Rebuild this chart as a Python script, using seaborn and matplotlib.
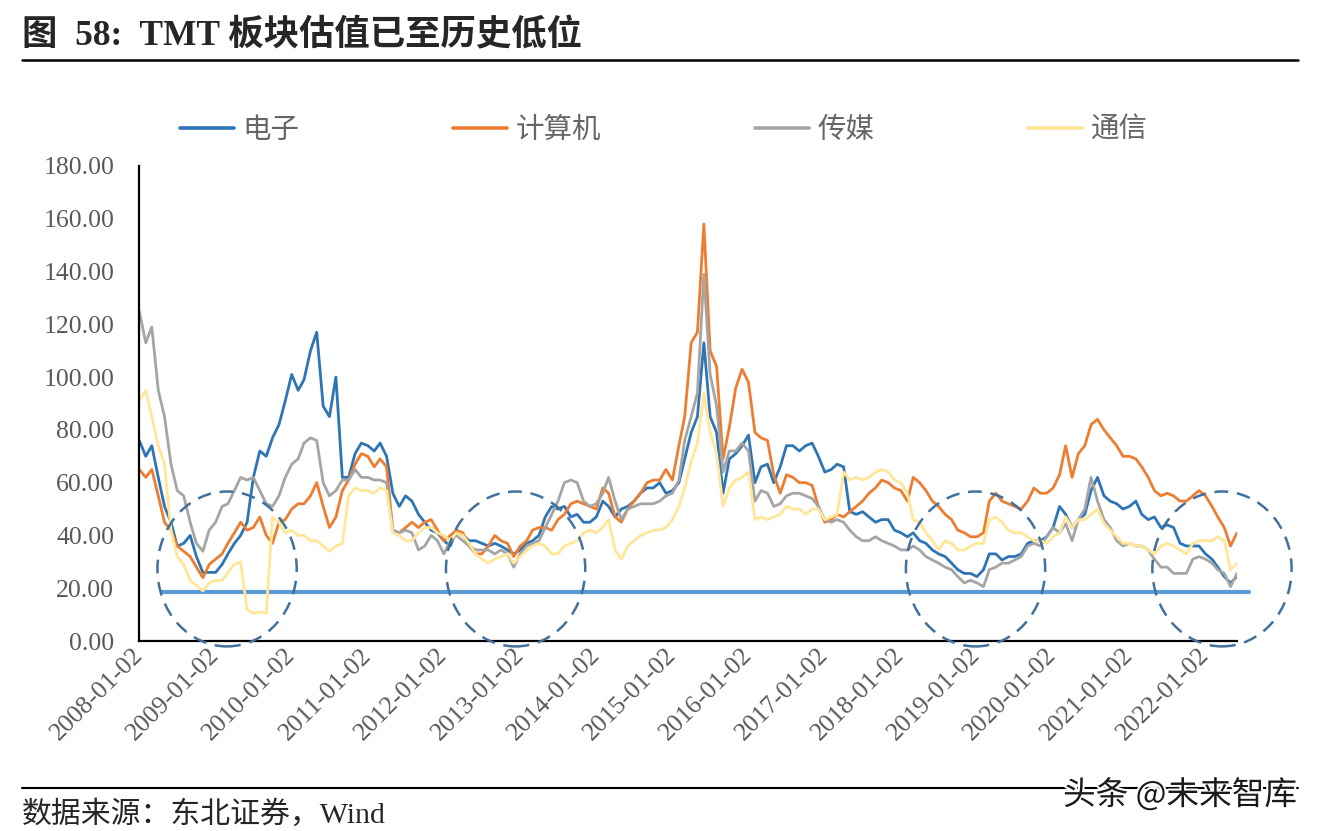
import numpy as np
import pandas as pd
import matplotlib
matplotlib.use("Agg")
import matplotlib.pyplot as plt
import matplotlib.dates as mdates
from matplotlib.patches import Ellipse
from matplotlib.lines import Line2D
import matplotlib.patheffects as pe
import seaborn as sns

# ---------------- data (monthly readings, 2008-01 .. 2022-06) ----------------
start_month = "2008-01-01"
n_months = 174

electronics = [  # 电子
    76, 70, 74, 62, 51, 45, 36, 37, 40, 32, 26, 26,
    26, 29, 33, 37, 40, 45, 62, 72, 70, 77, 82, 91,
    101, 95, 99, 110, 117, 89, 85, 100, 62, 62, 71, 75,
    74, 72, 75, 70, 56, 51, 55, 53, 48, 45, 42, 41,
    38, 36, 42, 40, 38, 38, 37, 36, 37, 36, 34.5, 33,
    34.5, 37, 38, 40, 47, 51, 50, 51, 47, 48, 45, 45,
    47, 53, 51, 47, 50, 51, 53, 56, 58, 58, 60, 56,
    57, 60, 69, 79, 85, 113, 85, 79, 56, 69, 71, 74,
    78, 60, 66, 67, 60, 66, 74, 74, 72, 74, 75, 70,
    64, 65, 67, 66, 49, 48, 49, 47, 45, 46, 46, 42,
    41, 39.5, 41, 38, 37, 34.5, 33, 32, 29.5, 27, 25.6, 25.6,
    24.4, 27, 33, 33, 30.7, 32, 32, 33, 37, 38, 38, 39.5,
    43, 51, 48, 43, 46, 48, 57, 62, 55, 53, 52, 50,
    51, 53, 48, 46, 47, 43, 44, 43, 37, 36, 36, 36,
    33, 31, 28, 24.4, 22, 24.4,
]
computer = [  # 计算机
    65, 62, 65, 55, 45, 42, 36, 34, 32, 28, 24, 29,
    31, 33, 37, 41, 45, 42, 43, 47, 40, 37, 45, 46,
    50, 52, 52, 55, 60, 51, 43, 47, 57, 61, 67, 71,
    70, 66, 69, 66, 42, 41, 43, 45, 43, 45, 46, 42,
    38, 40, 42, 41, 36, 33, 33, 36, 40, 38, 37, 32,
    36, 38, 42, 43, 43, 42, 46, 48, 52, 53, 52, 51,
    50, 58, 56, 47, 45, 50, 53, 56, 60, 61, 61, 65,
    61, 74, 85, 113, 117, 158, 110, 104, 69, 81, 96, 103,
    98, 79, 77, 76, 63, 56, 63, 62, 60, 60, 59, 51,
    45, 46, 48, 47, 49, 51, 53, 56, 58, 61, 60, 58,
    57, 53, 62, 60, 57, 53, 51, 48, 46, 42, 41, 39.5,
    39.5, 41, 53, 56, 53, 52, 51, 50, 53, 58, 56, 56,
    58, 63, 74, 62, 71, 74, 82, 84, 80, 77, 74, 70,
    70, 69, 66, 62, 57, 55, 56, 55, 53, 53, 55, 57,
    55, 51, 47, 43, 36, 41,
]
media = [  # 传媒
    125, 113, 119, 95, 85, 67, 57, 55, 45, 37, 34, 42,
    45, 51, 52, 57, 62, 61, 62, 57, 52, 51, 55, 62,
    67, 69, 75, 77, 76, 60, 55, 57, 61, 61, 65, 62,
    62, 61, 61, 60, 42, 41, 42, 41, 34.5, 36, 40, 38,
    33, 38, 40, 38, 36, 34.5, 34.5, 34.5, 33, 34.5, 33, 28,
    33, 36, 37, 38, 43, 48, 53, 60, 61, 60, 53, 51,
    52, 56, 62, 53, 46, 50, 51, 52, 52, 52, 53, 55,
    56, 61, 76, 85, 94, 139, 101, 89, 64, 72, 72, 75,
    72, 53, 57, 56, 51, 52, 55, 56, 56, 55, 54, 51,
    46, 45, 46, 45, 42, 39.5, 38, 38, 39.5, 38, 37, 36,
    34.5, 34.5, 36, 34.5, 32, 30.7, 29.5, 28, 27, 24.4, 22, 23,
    22, 20.6, 27, 28, 29.5, 29.5, 30.7, 32, 36, 37, 36, 39.5,
    43, 41, 44.5, 38, 46, 50, 62, 53, 46, 43, 38, 36,
    37, 36, 36, 34.5, 31, 28, 28, 25.6, 25.6, 25.6, 31, 32,
    31, 29.5, 27, 25.6, 20.6, 25.6,
]
telecom = [  # 通信
    91, 95, 85, 74, 67, 42, 32, 29, 23, 21, 19, 22,
    23, 23, 26, 29, 30, 12, 10.5, 11, 10.5, 47, 45, 41,
    42, 40, 40, 38, 38, 36, 34, 36, 37, 55, 58, 57,
    57, 56, 58, 57, 41, 40, 38, 38, 41, 43, 43, 41,
    40, 38, 41, 40, 37, 33, 31, 29.5, 31, 32, 33, 29.5,
    32, 34.5, 36, 37, 36, 33, 33, 36, 37, 38, 41, 42,
    41, 43, 46, 34.5, 31, 36, 38, 40, 41, 42, 42, 43,
    46, 51, 58, 68, 75, 94, 79, 71, 51, 58, 61, 62,
    64, 46, 47, 46, 47, 48, 51, 50, 50, 48, 50, 50,
    46, 47, 48, 64, 61, 62, 61, 62, 64, 65, 64, 61,
    60, 56, 46, 45, 41, 38, 34.5, 38, 37, 34.5, 34.5, 36,
    37, 37, 46, 47, 45, 42, 41, 41, 39.5, 38, 38, 37,
    39.5, 41, 47, 43, 46, 46, 48, 50, 44.5, 42, 39.5, 37,
    37, 36, 36, 34.5, 33, 36, 37, 36, 34.5, 33, 37, 38,
    38, 38, 39.5, 38, 27, 29.5,
]

series_names = ["电子", "计算机", "传媒", "通信"]
tick_years = list(range(2008, 2023))
tick_labels = [f"{y}-01-02" for y in tick_years]
y_ticks = [0, 20, 40, 60, 80, 100, 120, 140, 160, 180]
floor_value = 18.7  # horizontal "historical low" line

# highlighted low-valuation zones (center date, center value)
zone_centers = [("2009-02-25", 27.3), ("2012-12-10", 27.3),
                ("2018-12-25", 27.3), ("2022-03-21", 27.3)]

# ---------------- styling ----------------
colors = ["#2E75B6", "#ED7D31", "#A5A5A5", "#FFE699"]
sns.set_theme(style="white")
plt.rcParams["font.family"] = ["Liberation Serif", "Noto Sans CJK SC", "DejaVu Sans"]
plt.rcParams["axes.unicode_minus"] = False

dates = pd.date_range(start_month, periods=n_months, freq="MS")
df = pd.DataFrame({"date": dates, "电子": electronics, "计算机": computer,
                   "传媒": media, "通信": telecom})
long = df.melt(id_vars="date", var_name="板块", value_name="PE")

W, H = 1321, 831
fig = plt.figure(figsize=(W / 100, H / 100), dpi=100)
ax = fig.add_axes([139.3 / W, 1 - 641 / H, (1237 - 139.3) / W, (641 - 166) / H])

sns.lineplot(data=long, x="date", y="PE", hue="板块", hue_order=series_names,
             palette=colors, linewidth=2.0, ax=ax, legend=False, sort=False,
             estimator=None)

ax.set_xlim(pd.Timestamp("2008-01-01"), pd.Timestamp("2022-06-01"))
ax.set_ylim(0, 180)
ax.set_yticks(y_ticks)
ax.set_yticklabels([f"{v:.2f}" for v in y_ticks])
ax.set_xticks([pd.Timestamp(f"{y}-01-01") for y in tick_years])
ax.set_xticklabels(tick_labels, rotation=45, ha="right", va="center",
                   rotation_mode="anchor")
ax.set_xlabel("")
ax.set_ylabel("")

for s in ["top", "right"]:
    ax.spines[s].set_visible(False)
for s in ["left", "bottom"]:
    ax.spines[s].set_color("black")
    ax.spines[s].set_linewidth(1.6)
ax.tick_params(axis="both", direction="in", length=5, width=1.4, color="black",
               labelcolor="#595959", labelsize=18.5)
ax.tick_params(axis="y", pad=18)
ax.tick_params(axis="x", pad=8)
for lab in ax.get_xticklabels() + ax.get_yticklabels():
    lab.set_family(["Liberation Serif", "DejaVu Sans"])

# historical-low reference line
ax.axhline(floor_value, xmin=(162 - 139.3) / (1237 - 139.3),
           xmax=(1249 - 139.3) / (1237 - 139.3), color="#5B9BD5", lw=3,
           clip_on=False, zorder=1)

# dashed ellipses
for cdate, cval in zone_centers:
    e = Ellipse((mdates.date2num(pd.Timestamp(cdate)), cval), width=668, height=58.7,
                fill=False, edgecolor="#41719C", lw=1.8, linestyle=(0, (5.5, 3.5)),
                clip_on=False, zorder=5)
    ax.add_patch(e)

# legend
handles = [Line2D([0], [0], color=c, lw=2.6) for c in colors]
leg = fig.legend(handles, series_names, loc="center left",
                 bbox_to_anchor=(154 / W, 1 - 130 / H), ncol=4, frameon=False,
                 handlelength=1.9, handletextpad=0.3, columnspacing=5.4,
                 prop={"family": ["Noto Sans CJK SC"], "size": 20.5})
for t in leg.get_texts():
    t.set_color("#666666")

# title and rules
fig.text(22 / W, 1 - 36 / H, "图  58:  TMT 板块估值已至历史低位", fontsize=25.5,
         fontweight="bold", ha="left", va="center",
         family=["Liberation Serif", "Noto Sans CJK SC"])
fig.add_artist(Line2D([22 / W, 1298 / W], [1 - 60 / H] * 2, color="black", lw=1.8))
fig.add_artist(Line2D([22 / W, 1298 / W], [1 - 788 / H] * 2, color="black", lw=1.5))
fig.text(22 / W, 1 - 815 / H, "数据来源：东北证券，Wind", fontsize=21.5,
         ha="left", va="center", family=["Liberation Serif", "Noto Sans CJK SC"])
fig.text(1297 / W, 1 - 795 / H, "头条 @未来智库", fontsize=23.5, ha="right",
         va="center", color="#1a1a1a", family=["Noto Sans CJK SC", "DejaVu Sans"],
         path_effects=[pe.withStroke(linewidth=3, foreground="white")])

fig.savefig("out.png", dpi=100, facecolor="white")
